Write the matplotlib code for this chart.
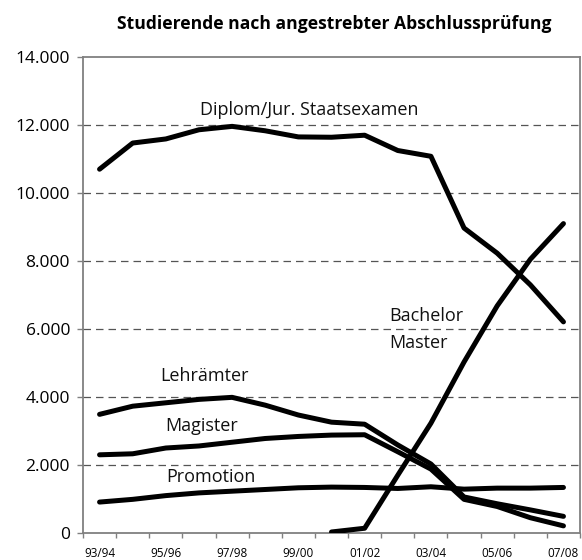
import numpy as np
import matplotlib
matplotlib.use('Agg')
import matplotlib.pyplot as plt
from matplotlib.ticker import FuncFormatter, FixedLocator

# academic years 93/94 .. 07/08
years = ['93/94', '94/95', '95/96', '96/97', '97/98', '98/99', '99/00', '00/01',
         '01/02', '02/03', '03/04', '04/05', '05/06', '06/07', '07/08']

diplom = [10700, 11470, 11590, 11860, 11960, 11830, 11650, 11640, 11700, 11250,
          11080, 8970, 8230, 7300, 6210]
lehraemter = [3490, 3730, 3830, 3930, 3990, 3760, 3470, 3260, 3200, 2590,
              2030, 1060, 860, 680, 490]
magister = [2300, 2330, 2500, 2560, 2670, 2780, 2840, 2880, 2890, 2390,
            1880, 990, 780, 450, 210]
promotion = [910, 990, 1100, 1180, 1230, 1280, 1330, 1350, 1340, 1310,
             1360, 1290, 1320, 1320, 1340]
# Bachelor/Master only from 00/01 on
bachelor_years = years[7:]
bachelor = [30, 140, 1700, 3230, 5030, 6680, 8050, 9100]

plt.rcParams['font.family'] = ['Open Sans', 'DejaVu Sans']

fig = plt.figure(figsize=(5.82, 5.6), dpi=100)
ax = fig.add_axes([0.1426, 0.0482, 0.854, 0.8500])

x = np.arange(len(years))
xb = np.array([years.index(y) for y in bachelor_years])

lw = 3.6
for vals in [diplom, lehraemter, magister, promotion]:
    ax.plot(x, vals, color='black', lw=lw, solid_capstyle='round', solid_joinstyle='round', zorder=3)
ax.plot(xb, bachelor, color='black', lw=lw, solid_capstyle='round', solid_joinstyle='round', zorder=3)

ax.set_xlim(-0.5, len(years) - 0.5)
ax.set_ylim(0, 14000)

# dashed gridlines
for yv in range(2000, 14000, 2000):
    ax.axhline(yv, color='#555555', lw=0.9, ls=(0, (6, 4)), zorder=1)

ax.yaxis.set_major_locator(FixedLocator(range(0, 14001, 2000)))
ax.yaxis.set_major_formatter(FuncFormatter(lambda v, p: '{:,.0f}'.format(v).replace(',', '.')))
ax.tick_params(axis='y', length=4.3, width=1, color='#808080', labelsize=12.5, pad=5)

ax.set_xticks(x[::2])
ax.set_xticklabels(years[::2])
ax.set_xticks(np.arange(-0.5, len(years), 1), minor=True)
ax.tick_params(axis='x', which='major', length=0, labelsize=8.5, pad=10)
ax.tick_params(axis='x', which='minor', length=3.5, width=1, color='#808080')

for s in ax.spines.values():
    s.set_color('#808080')
    s.set_linewidth(1.3)

lab = dict(fontsize=13, color='#111111', va='center', ha='left')
ax.text(3.03, 12440, 'Diplom/Jur. Staatsexamen', **lab)
ax.text(8.74, 6380, 'Bachelor', **lab)
ax.text(8.74, 5590, 'Master', **lab)
ax.text(1.82, 4620, 'Lehrämter', **lab)
ax.text(1.98, 3150, 'Magister', **lab)
ax.text(2.0, 1650, 'Promotion', **lab)

fig.text(0.575, 0.958, 'Studierende nach angestrebter Abschlussprüfung',
         ha='center', va='center', fontsize=12.6, fontweight='bold')

fig.savefig('out.png', dpi=100, facecolor='white')
